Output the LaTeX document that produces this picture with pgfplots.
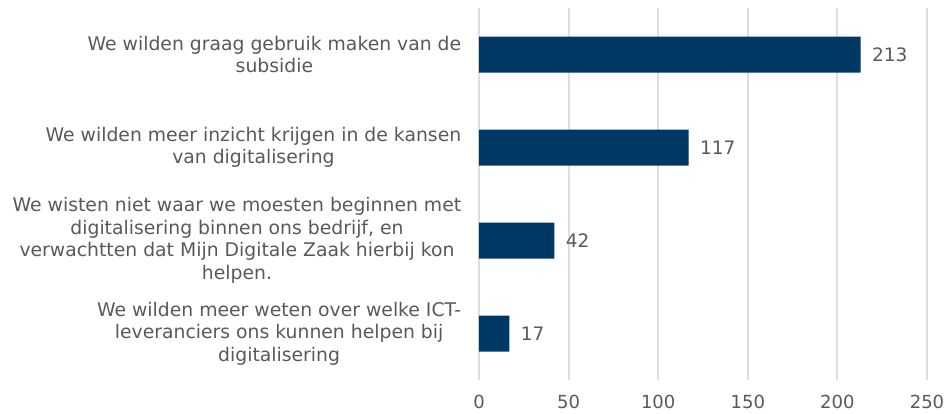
\documentclass[border=0pt]{standalone}
\usepackage{fontspec}
\setmainfont{DejaVu Sans}
\usepackage{pgfplots}
\pgfplotsset{compat=1.18}
\definecolor{barblue}{RGB}{0,56,101}
\definecolor{txt}{RGB}{89,89,89}
\definecolor{gridc}{RGB}{222,222,222}
\begin{document}
\begin{tikzpicture}
\useasboundingbox (-479bp,-34bp) rectangle (468bp,380bp);
\begin{axis}[
  scale only axis,
  width=448bp, height=372bp,
  xbar, bar width=36bp,
  xmin=0, xmax=250,
  ymin=-0.5, ymax=3.5,
  y dir=reverse,
  xtick={0,50,100,150,200,250},
  ytick={0,1,2,3},
  yticklabels={
    {We wilden graag gebruik maken van de\\subsidie},
    {We wilden meer inzicht krijgen in de kansen\\van digitalisering},
    {We wisten niet waar we moesten beginnen met\\digitalisering binnen ons bedrijf, en\\verwachtten dat Mijn Digitale Zaak hierbij kon\\helpen.},
    {We wilden meer weten over welke ICT-\\leveranciers ons kunnen helpen bij\\digitalisering}},
  yticklabel style={align=center, font=\fontsize{18.8bp}{22.5bp}\selectfont, text=txt, xshift=-10bp},
  xticklabel style={font=\fontsize{18bp}{21bp}\selectfont, text=txt, yshift=-12bp},
  /pgf/number format/assume math mode=true,
  axis line style={draw=none},
  major tick style={draw=none},
  xmajorgrids,
  grid style={gridc, line width=2bp},
  nodes near coords,
  every node near coord/.append style={font=\fontsize{18.5bp}{21bp}\selectfont, text=txt, anchor=west, xshift=8bp},
]
\addplot[fill=barblue, draw=none] coordinates {(213,0) (117,1) (42,2) (17,3)};
\end{axis}
\end{tikzpicture}
\end{document}
